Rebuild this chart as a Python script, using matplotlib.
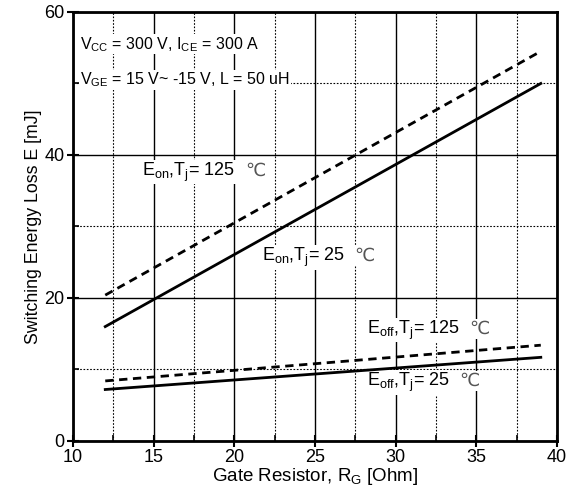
import matplotlib
matplotlib.use("Agg")
import matplotlib.pyplot as plt
from matplotlib.ticker import MultipleLocator

plt.rcParams['font.family'] = ['Liberation Sans', 'DejaVu Sans']
plt.rcParams['mathtext.fontset'] = 'custom'
plt.rcParams['mathtext.rm'] = 'Liberation Sans'

# gate resistance [Ohm]
rg = [12, 39]
# switching energy [mJ]
eon_125 = [20.4, 54.5]
eon_25 = [16.0, 50.0]
eoff_125 = [8.4, 13.4]
eoff_25 = [7.2, 11.7]

fig = plt.figure(figsize=(5.68, 4.97), dpi=100)
ax = fig.add_axes([0.1285, 0.1127, 0.852, 0.8632])

dash = (0, (3, 2))
ax.plot(rg, eon_125, color='black', lw=2, ls=dash, zorder=5)
ax.plot(rg, eon_25, color='black', lw=2, zorder=5)
ax.plot(rg, eoff_125, color='black', lw=2, ls=dash, zorder=5)
ax.plot(rg, eoff_25, color='black', lw=2, zorder=5)

ax.set_xlim(10, 40)
ax.set_ylim(0, 60)
ax.xaxis.set_major_locator(MultipleLocator(5))
ax.xaxis.set_minor_locator(MultipleLocator(2.5))
ax.yaxis.set_major_locator(MultipleLocator(20))
ax.yaxis.set_minor_locator(MultipleLocator(10))
ax.grid(which='major', color='black', lw=1)
ax.grid(which='minor', color='black', lw=0.8, ls=(0, (1.5, 1.5)))
ax.tick_params(which='major', direction='inout', length=8, width=1.5, labelsize=13, pad=2)
ax.tick_params(which='minor', direction='in', length=4, width=1.2)
for s in ax.spines.values():
    s.set_linewidth(2)
    s.set_zorder(6)

ax.set_xlabel(r'Gate Resistor, R$_{\mathregular{G}}$ [Ohm]', fontsize=13.5, labelpad=0)
ax.set_ylabel('Switching Energy Loss E [mJ]', fontsize=12.8, labelpad=2)

box = dict(facecolor='white', edgecolor='none', pad=0.5)
ax.text(10.45, 55.5, r'V$_{\mathregular{CC}}$ = 300 V, I$_{\mathregular{CE}}$ = 300 A',
        fontsize=11.5, va='center', bbox=box)
ax.text(10.45, 50.5, r'V$_{\mathregular{GE}}$ = 15 V~ -15 V, L = 50 uH',
        fontsize=11.5, va='center', bbox=box)


def curve_label(x, y, sub, temp):
    t = ax.text(x, y, r'E$_{\mathregular{%s}}$,T$_{\mathregular{j}}$= %s' % (sub, temp),
                fontsize=13, va='center', bbox=box)
    ax.annotate('℃', xy=(1, 0.55), xycoords=t, xytext=(7, 0), textcoords='offset points',
                fontsize=13, va='center', family='DejaVu Sans', color='#555555',
                bbox=box)


curve_label(14.3, 37.6, 'on', '125')
curve_label(21.7, 25.7, 'on', '25')
curve_label(28.2, 15.5, 'off', '125')
curve_label(28.2, 8.2, 'off', '25')

fig.savefig('out.png', dpi=100)
